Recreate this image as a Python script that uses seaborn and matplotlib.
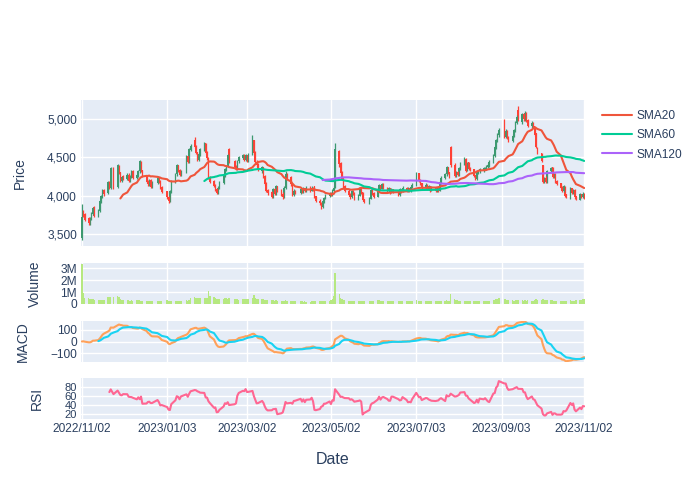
import numpy as np
import pandas as pd
import matplotlib
matplotlib.use("Agg")
import matplotlib.pyplot as plt
import matplotlib.dates as mdates
from matplotlib.ticker import FixedLocator, FuncFormatter
import seaborn as sns

# market holidays inside the range (no candles on these days)
holidays = ["2022-11-24", "2022-12-26", "2023-01-02", "2023-01-16", "2023-02-20",
            "2023-04-07", "2023-05-29", "2023-06-19", "2023-07-04", "2023-09-04"]

# daily prices, one row per trading week
close = [
    3720, 3740, 3690,
    3640, 3700, 3760, 3830, 3740,
    3800, 3920, 3990, 4060, 4020,
    4170, 4100, 4360, 4110,
    4390, 4300, 4200, 4240, 4220,
    4270, 4200, 4250, 4310, 4230,
    4260, 4320, 4450, 4330, 4260,
    4180, 4150, 4200, 4120, 4170,
    4230, 4190, 4110, 4050,
    3980, 3930, 4050, 4180,
    4280, 4390, 4330, 4270, 4320,
    4510, 4440, 4600, 4650,
    4640, 4560, 4470, 4540, 4600,
    4680, 4560, 4490, 4240, 4180,
    4130, 4080, 4040, 4100, 4170,
    4260, 4340, 4380, 4520, 4450,
    4380, 4360, 4450, 4500,
    4530, 4470, 4520, 4460, 4540,
    4700, 4560, 4440, 4400, 4340,
    4370, 4250, 4160, 4070, 4040,
    3990, 4080, 4030, 4120, 4060,
    4020, 3980, 4100, 4280, 4240,
    4150, 4010, 4060, 4040,
    4080, 4040, 4090, 4060, 4100,
    4070, 4100, 4080, 3990, 3930,
    3900, 3860, 3920, 3960, 4000,
    4020, 4010, 4070, 4100, 4600,
    4420, 4300, 4220, 4120, 4060,
    4010, 3980, 4050, 4030, 3960,
    4000, 4090, 4040, 3950, 3920,
    3960, 4070, 4030, 3990,
    4050, 4130, 4090, 4150, 4100,
    4060, 4090, 4040, 4080, 4050,
    4010, 4080, 4050, 4100,
    4070, 4090, 4060, 4110, 4140,
    4290, 4200, 4160, 4100,
    4140, 4090, 4120, 4070, 4100,
    4060, 4090, 4070, 4170, 4230,
    4280, 4370, 4300, 4250, 4400,
    4260, 4300, 4270, 4350, 4420,
    4480, 4330, 4420, 4350, 4340,
    4260, 4220, 4300, 4320, 4340,
    4350, 4360, 4380, 4400, 4440,
    4520, 4630, 4720, 4800, 4850,
    4770, 4840, 4760, 4720,
    4780, 4850, 4950, 5030, 4990,
    5060, 5000, 5080, 4980, 4920,
    4950, 4900, 4800, 4640, 4560,
    4460, 4180, 4210, 4180, 4320,
    4360, 4250, 4280, 4190, 4160,
    4100, 4060, 4120, 4000, 3990,
    4090, 4040, 4070, 3980, 3960,
    4010, 3990, 4020, 3980,
]
open_ = [
    3450, 3790, 3750,
    3700, 3630, 3690, 3760, 3840,
    3730, 3800, 3910, 3990, 4070,
    4040, 4170, 4100, 4350,
    4110, 4380, 4300, 4200, 4250,
    4220, 4270, 4200, 4240, 4320,
    4230, 4260, 4320, 4440, 4330,
    4260, 4190, 4150, 4200, 4120,
    4170, 4230, 4190, 4110,
    4050, 3980, 3930, 4050,
    4180, 4280, 4390, 4330, 4270,
    4320, 4510, 4440, 4600,
    4720, 4640, 4560, 4470, 4540,
    4600, 4680, 4560, 4490, 4240,
    4180, 4130, 4080, 4040, 4100,
    4170, 4260, 4340, 4380, 4600,
    4450, 4380, 4360, 4450,
    4500, 4530, 4470, 4520, 4460,
    4540, 4720, 4560, 4440, 4400,
    4320, 4370, 4250, 4160, 4070,
    4040, 3990, 4080, 4030, 4120,
    4060, 4020, 3990, 4100, 4280,
    4240, 4150, 4010, 4060,
    4040, 4080, 4040, 4090, 4060,
    4100, 4070, 4100, 4120, 3990,
    3930, 3900, 3850, 3920, 3960,
    4000, 4020, 4010, 4070, 4110,
    4580, 4420, 4300, 4220, 4120,
    4060, 4010, 3980, 4050, 4030,
    3960, 4000, 4090, 4040, 3950,
    3910, 3960, 4070, 4030,
    3990, 4050, 4130, 4090, 4150,
    4100, 4060, 4090, 4040, 4080,
    4050, 4010, 4080, 4050,
    4100, 4070, 4090, 4060, 4110,
    4140, 4290, 4200, 4160,
    4100, 4140, 4090, 4120, 4070,
    4100, 4060, 4110, 4070, 4170,
    4230, 4280, 4370, 4300, 4630,
    4400, 4260, 4300, 4270, 4350,
    4420, 4480, 4330, 4430, 4350,
    4340, 4260, 4220, 4300, 4320,
    4330, 4350, 4360, 4380, 4400,
    4440, 4520, 4630, 4720, 4790,
    4940, 4770, 4840, 4760,
    4720, 4780, 4850, 4950, 5120,
    4960, 5060, 5000, 5080, 4980,
    4910, 4950, 4900, 4810, 4620,
    4550, 4390, 4180, 4230, 4190,
    4320, 4370, 4250, 4280, 4190,
    4160, 4100, 4060, 4110, 4010,
    3980, 4090, 4040, 4070, 3990,
    3950, 4010, 3990, 4020,
]
high = [
    3890, 3810, 3770,
    3720, 3720, 3780, 3850, 3860,
    3820, 3940, 4010, 4090, 4090,
    4190, 4190, 4380, 4370,
    4410, 4400, 4310, 4260, 4270,
    4290, 4290, 4270, 4330, 4340,
    4280, 4340, 4470, 4450, 4340,
    4270, 4200, 4220, 4210, 4190,
    4250, 4240, 4200, 4120,
    4060, 3990, 4070, 4200,
    4300, 4410, 4400, 4350, 4340,
    4530, 4520, 4620, 4670,
    4760, 4660, 4570, 4560, 4620,
    4700, 4690, 4580, 4500, 4260,
    4200, 4150, 4100, 4120, 4190,
    4280, 4360, 4400, 4540, 4620,
    4470, 4400, 4470, 4520,
    4550, 4550, 4540, 4530, 4560,
    4790, 4730, 4580, 4460, 4420,
    4390, 4380, 4270, 4180, 4090,
    4060, 4100, 4100, 4140, 4130,
    4080, 4040, 4120, 4320, 4290,
    4250, 4160, 4080, 4070,
    4100, 4090, 4110, 4100, 4120,
    4120, 4120, 4110, 4130, 4000,
    3950, 3910, 3940, 3980, 4020,
    4040, 4040, 4090, 4120, 4690,
    4600, 4440, 4320, 4240, 4140,
    4080, 4030, 4070, 4070, 4040,
    4020, 4110, 4100, 4050, 3960,
    3980, 4090, 4080, 4040,
    4070, 4150, 4140, 4170, 4160,
    4110, 4110, 4100, 4100, 4090,
    4060, 4100, 4090, 4120,
    4110, 4110, 4100, 4130, 4160,
    4310, 4300, 4210, 4170,
    4160, 4150, 4140, 4130, 4120,
    4110, 4100, 4120, 4190, 4250,
    4300, 4390, 4380, 4310, 4650,
    4420, 4320, 4320, 4370, 4440,
    4500, 4490, 4440, 4440, 4370,
    4350, 4270, 4310, 4340, 4360,
    4370, 4380, 4400, 4420, 4460,
    4540, 4650, 4740, 4820, 4880,
    5000, 4870, 4860, 4780,
    4800, 4870, 4970, 5060, 5170,
    5080, 5080, 5100, 5090, 5000,
    4970, 4960, 4910, 4820, 4630,
    4560, 4400, 4240, 4250, 4340,
    4380, 4380, 4300, 4290, 4200,
    4170, 4120, 4140, 4120, 4020,
    4110, 4100, 4090, 4080, 4000,
    4030, 4020, 4040, 4030,
]
low = [
    3420, 3720, 3670,
    3610, 3620, 3680, 3740, 3720,
    3720, 3790, 3900, 3970, 4000,
    4020, 4080, 4090, 4090,
    4100, 4280, 4180, 4180, 4200,
    4200, 4180, 4180, 4230, 4210,
    4210, 4240, 4300, 4310, 4240,
    4160, 4130, 4130, 4100, 4100,
    4150, 4170, 4090, 4030,
    3960, 3900, 3910, 4030,
    4160, 4260, 4310, 4250, 4250,
    4300, 4420, 4420, 4580,
    4620, 4540, 4450, 4450, 4520,
    4580, 4540, 4470, 4220, 4160,
    4110, 4060, 4020, 4020, 4090,
    4150, 4240, 4320, 4370, 4430,
    4360, 4340, 4340, 4430,
    4480, 4450, 4450, 4440, 4440,
    4530, 4540, 4420, 4380, 4320,
    4300, 4230, 4140, 4050, 4010,
    3970, 3970, 4010, 4010, 4040,
    4000, 3960, 3970, 4090, 4220,
    4130, 3990, 4000, 4020,
    4020, 4030, 4030, 4040, 4050,
    4050, 4060, 4060, 3970, 3910,
    3880, 3830, 3840, 3900, 3950,
    3980, 3990, 4000, 4050, 4100,
    4380, 4280, 4200, 4100, 4040,
    3990, 3960, 3970, 4010, 3940,
    3940, 3990, 4020, 3930, 3900,
    3890, 3950, 4010, 3970,
    3980, 4040, 4070, 4080, 4080,
    4040, 4050, 4020, 4030, 4030,
    3990, 4000, 4030, 4040,
    4050, 4050, 4040, 4050, 4100,
    4130, 4180, 4140, 4080,
    4080, 4070, 4070, 4050, 4060,
    4040, 4040, 4050, 4060, 4150,
    4210, 4260, 4280, 4230, 4380,
    4240, 4240, 4250, 4260, 4330,
    4400, 4310, 4320, 4330, 4320,
    4240, 4200, 4200, 4280, 4300,
    4310, 4330, 4340, 4360, 4380,
    4420, 4500, 4610, 4700, 4770,
    4750, 4750, 4740, 4700,
    4700, 4760, 4830, 4930, 4970,
    4940, 4980, 4980, 4960, 4900,
    4890, 4880, 4780, 4620, 4540,
    4440, 4160, 4160, 4160, 4170,
    4300, 4230, 4230, 4170, 4140,
    4080, 4040, 4040, 3980, 3970,
    3960, 4020, 4020, 3960, 3940,
    3940, 3970, 3970, 3960,
]
# volume in thousands of shares
volume_k = [
    3400, 930, 520,
    480, 450, 400, 380, 350,
    330, 360, 340, 320, 300,
    560, 620, 600, 580,
    640, 560, 400, 350, 330,
    300, 310, 290, 300, 280,
    300, 320, 360, 280, 270,
    250, 240, 260, 230, 220,
    240, 260, 230, 220,
    300, 270, 260, 250,
    260, 240, 230, 280, 250,
    300, 280, 330, 520,
    560, 500, 480, 520, 470,
    500, 540, 480, 1100, 700,
    560, 480, 460, 450, 430,
    420, 500, 480, 450, 470,
    420, 400, 380, 360,
    380, 420, 400, 390, 410,
    480, 750, 520, 450, 400,
    380, 420, 360, 340, 330,
    320, 300, 280, 300, 290,
    260, 270, 250, 300, 280,
    260, 250, 240, 230,
    220, 230, 210, 220, 200,
    210, 230, 240, 260, 250,
    240, 260, 250, 230, 240,
    260, 300, 420, 650, 2600,
    850, 520, 380, 330, 300,
    280, 260, 270, 250, 240,
    250, 260, 240, 230, 220,
    230, 240, 220, 250,
    300, 360, 280, 260, 240,
    250, 230, 240, 220, 230,
    240, 230, 250, 220,
    230, 220, 240, 230, 250,
    320, 280, 250, 240,
    250, 240, 230, 220, 240,
    250, 230, 240, 280, 270,
    260, 300, 280, 270, 850,
    420, 330, 300, 280, 270,
    290, 270, 250, 240, 230,
    220, 240, 230, 260, 250,
    240, 230, 250, 260, 280,
    300, 350, 420, 460, 480,
    440, 380, 330, 300,
    300, 280, 320, 350, 340,
    300, 280, 330, 290, 300,
    280, 270, 300, 380, 360,
    340, 420, 360, 300, 320,
    330, 300, 280, 260, 250,
    270, 260, 250, 290, 280,
    300, 280, 270, 290, 300,
    320, 360, 380, 400,
]

tick_labels = ["2022/11/02", "2023/01/03", "2023/03/02", "2023/05/02",
               "2023/07/03", "2023/09/03", "2023/11/02"]

dates = pd.bdate_range("2022-11-02", "2023-11-02", freq="C", holidays=holidays)
df = pd.DataFrame({"Open": open_, "High": high, "Low": low, "Close": close,
                   "Volume": np.array(volume_k) * 1000}, index=dates)

# indicators
for n in (20, 60, 120):
    df[f"SMA{n}"] = df["Close"].rolling(n).mean()
ema12 = df["Close"].ewm(span=12, adjust=False).mean()
ema26 = df["Close"].ewm(span=26, adjust=False).mean()
df["MACD"] = ema12 - ema26
df["Signal"] = df["MACD"].ewm(span=9, adjust=False, min_periods=9).mean()
delta = df["Close"].diff()
gain = delta.clip(lower=0).rolling(14).mean()
loss = (-delta.clip(upper=0)).rolling(14).mean()
df["RSI"] = 100 - 100 / (1 + gain / loss)

sns.set_theme(style="darkgrid", rc={"axes.facecolor": "#E5ECF6", "grid.color": "white",
                                    "grid.linewidth": 1.0})
plt.rcParams["font.family"] = ["Liberation Sans", "DejaVu Sans"]
txt = "#2a3f5f"

fig = plt.figure(figsize=(7, 5), dpi=100)
L, W = 81 / 700, 504 / 700
ax_p = fig.add_axes([L, 1 - 246 / 500, W, 146 / 500])
ax_v = fig.add_axes([L, 1 - 304 / 500, W, 41 / 500])
ax_m = fig.add_axes([L, 1 - 362 / 500, W, 41 / 500])
ax_r = fig.add_axes([L, 1 - 419 / 500, W, 41 / 500])
axes = [ax_p, ax_v, ax_m, ax_r]

# candlesticks
up = df["Close"] >= df["Open"]
for mask, col in [(up, "#3D9970"), (~up, "#FF4136")]:
    d = df[mask]
    ax_p.vlines(d.index, d["Low"], d["High"], color=col, lw=0.9)
    ax_p.bar(d.index, (d["Close"] - d["Open"]).abs() + 8,
             bottom=d[["Open", "Close"]].min(axis=1) - 4,
             width=1.1, color=col, linewidth=0)

sma_cols = {"SMA20": "#EF553B", "SMA60": "#00CC96", "SMA120": "#AB63FA"}
for name, col in sma_cols.items():
    sns.lineplot(x=df.index, y=df[name], ax=ax_p, color=col, lw=1.5, label=name)

ax_v.bar(df.index, df["Volume"], width=1.0, color="#B6E880", linewidth=0)

sns.lineplot(x=df.index, y=df["MACD"], ax=ax_m, color="#FFA15A", lw=1.5)
sns.lineplot(x=df.index, y=df["Signal"], ax=ax_m, color="#19D3F3", lw=1.5)
sns.lineplot(x=df.index, y=df["RSI"], ax=ax_r, color="#FF6692", lw=1.5)

handles, labels = ax_p.get_legend_handles_labels()
for ax in axes:
    if ax.get_legend() is not None:
        ax.get_legend().remove()

tick_dates = pd.to_datetime(tick_labels, format="%Y/%m/%d")
x0 = mdates.date2num(pd.Timestamp("2022-11-02")) - 0.6
x1 = mdates.date2num(pd.Timestamp("2023-11-02")) + 0.6
for ax in axes:
    ax.set_xlim(x0, x1)
    ax.xaxis.set_major_locator(FixedLocator(mdates.date2num(tick_dates)))
    ax.tick_params(length=0, labelsize=8.6, colors=txt, pad=3)
    ax.set_xlabel("")
    ax.grid(True, color="white", lw=1.0)
    for s in ax.spines.values():
        s.set_visible(False)
    if ax is not ax_r:
        ax.set_xticklabels([])
ax_r.set_xticklabels(tick_labels)

ax_p.set_ylim(3340, 5250)
ax_p.set_yticks([3500, 4000, 4500, 5000])
ax_p.yaxis.set_major_formatter(FuncFormatter(lambda v, p: f"{v:,.0f}"))
ax_v.set_ylim(0, 3.45e6)
ax_v.set_yticks([0, 1e6, 2e6, 3e6])
ax_v.set_yticklabels(["0", "1M", "2M", "3M"])
ax_m.set_ylim(-178, 178)
ax_m.set_yticks([-100, 0, 100])
ax_m.set_yticklabels(["\u2212100", "0", "100"])
ax_r.set_ylim(9, 101)
ax_r.set_yticks([20, 40, 60, 80])
ax_r.tick_params(axis="y", labelsize=8)

for ax, name, xpos in [(ax_p, "Price", 27), (ax_v, "Volume", 42),
                       (ax_m, "MACD", 30), (ax_r, "RSI", 44)]:
    ax.set_ylabel(name, fontsize=10, color=txt)
    ax.yaxis.set_label_coords((xpos - 81) / 504, 0.5)

fig.text(333 / 700, 1 - 460 / 500, "Date", ha="center", va="center",
         fontsize=11.5, color=txt)

fig.legend(handles, labels, loc="upper left", bbox_to_anchor=(591 / 700, 1 - 99 / 500),
           frameon=False, fontsize=8.6, handlelength=2.5, handletextpad=0.45,
           labelspacing=0.62, labelcolor=txt)

fig.savefig("out.png", dpi=100, facecolor="white")
